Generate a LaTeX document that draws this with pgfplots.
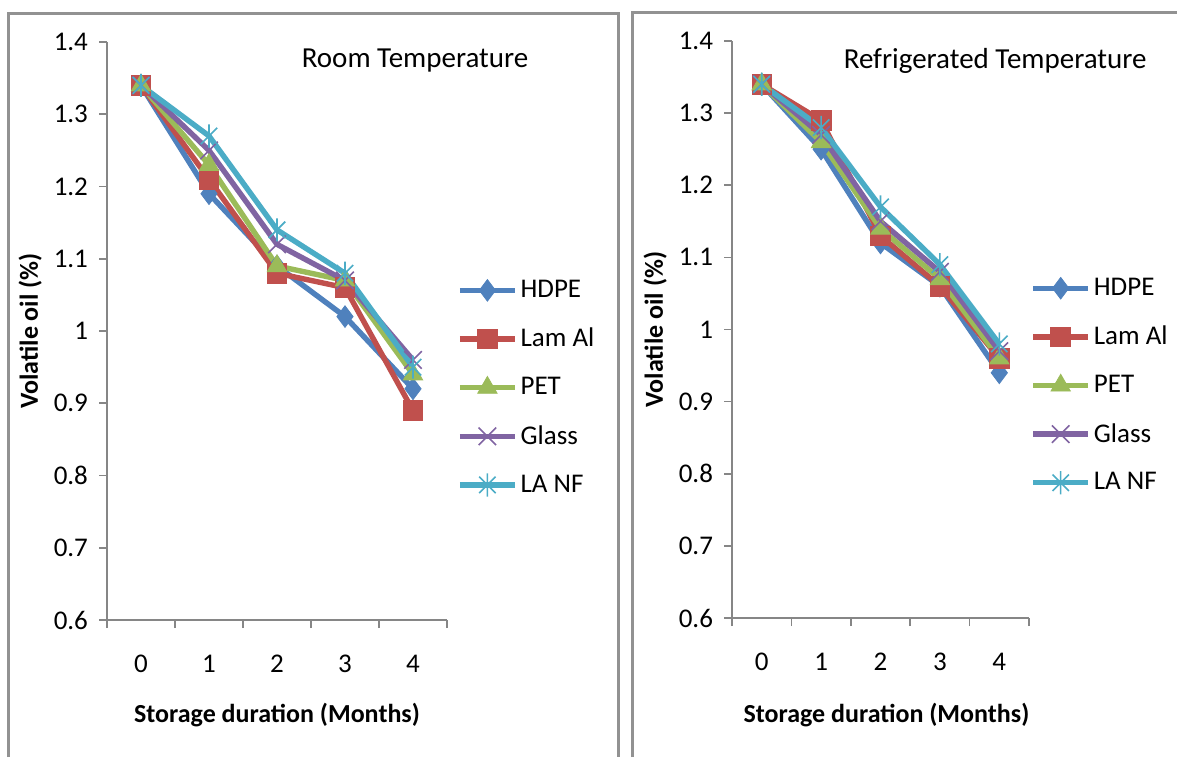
\documentclass[border=0pt]{standalone}
\usepackage{pgfplots}
\pgfplotsset{compat=1.18}
\usepackage{fontspec}
\setmainfont{Carlito}
\definecolor{cHDPE}{HTML}{4F81BD}
\definecolor{cLam}{HTML}{C0504D}
\definecolor{cPET}{HTML}{9BBB59}
\definecolor{cGlass}{HTML}{8064A2}
\definecolor{cLANF}{HTML}{4BACC6}
\definecolor{axgray}{HTML}{868686}
\pgfdeclareplotmark{xstar}{%
  \pgfpathmoveto{\pgfqpoint{-.7071\pgfplotmarksize}{-.7071\pgfplotmarksize}}%
  \pgfpathlineto{\pgfqpoint{.7071\pgfplotmarksize}{.7071\pgfplotmarksize}}%
  \pgfpathmoveto{\pgfqpoint{-.7071\pgfplotmarksize}{.7071\pgfplotmarksize}}%
  \pgfpathlineto{\pgfqpoint{.7071\pgfplotmarksize}{-.7071\pgfplotmarksize}}%
  \pgfpathmoveto{\pgfqpoint{0pt}{-\pgfplotmarksize}}%
  \pgfpathlineto{\pgfqpoint{0pt}{\pgfplotmarksize}}%
  \pgfusepathqstroke}

\pgfplotstableread{
m HDPE LamAl PET Glass LANF
0 1.34 1.34 1.34 1.34 1.34
1 1.19 1.21 1.23 1.25 1.27
2 1.09 1.08 1.09 1.12 1.14
3 1.02 1.06 1.07 1.07 1.08
4 0.92 0.89 0.94 0.96 0.95
}\roomdata
\pgfplotstableread{
m HDPE LamAl PET Glass LANF
0 1.34 1.34 1.34 1.34 1.34
1 1.25 1.29 1.26 1.27 1.28
2 1.12 1.13 1.14 1.15 1.17
3 1.06 1.06 1.07 1.08 1.09
4 0.94 0.96 0.96 0.97 0.98
}\fridgedata

\pgfplotsset{
  excel/.style={
    scale only axis,
    clip=false,
    xmin=-0.5, xmax=4.5,
    ymin=0.6, ymax=1.4,
    ytick={0.6,0.7,...,1.41},
    xtick={0,1,2,3,4},
    minor xtick={-0.5,0.5,...,4.6},
    major x tick style={draw=none},
    minor x tick style={axgray, line width=0.8pt},
    minor tick length=4pt,
    major tick length=4pt,
    y tick style={axgray, line width=0.8pt},
    tick align=outside,
    axis x line*=bottom,
    axis y line*=left,
    axis line style={axgray, line width=1.2pt, -},
    /pgf/number format/assume math mode=true,
    yticklabel={\pgfmathprintnumber[fixed,precision=1]{\tick}},
    tick label style={font=\fontsize{13.5}{15}\selectfont},
    xticklabel style={yshift=-10pt},
    yticklabel style={xshift=-2pt},
    label style={font=\fontsize{13}{15}\selectfont\bfseries},
    ylabel={Volatile oil (\%)},
    xlabel={Storage duration (Months)},
    legend style={draw=none, fill=none, inner sep=0pt, outer sep=0pt,
      font=\fontsize{13.5}{15}\selectfont, row sep=10.8pt,
      nodes={inner sep=1.5pt}},
    legend cell align=left,
    legend image code/.code={%
      \draw[mark repeat=2,mark phase=2] plot coordinates {(0pt,0pt)(13.75pt,0pt)(27.5pt,0pt)};},
    every axis plot/.append style={line width=2.7pt},
  },
  pHDPE/.style={color=cHDPE, mark=diamond*, mark size=5.4pt, mark options={solid, line width=0.4pt}},
  pLam/.style={color=cLam, mark=square*, mark size=4.9pt, mark options={solid, line width=0.4pt}},
  pPET/.style={color=cPET, mark=triangle*, mark size=5.6pt, mark options={solid, line width=0.4pt}},
  pGlass/.style={color=cGlass, mark=x, mark size=6.2pt, mark options={solid, line width=0.8pt}},
  pLANF/.style={color=cLANF, mark=xstar, mark size=5.8pt, mark options={solid, line width=0.8pt}},
}

\begin{document}
\begin{tikzpicture}
\path[use as bounding box] (0,0) rectangle (588.5pt,-378.5pt);
\draw[color=axgray!90, line width=1.5pt] (4pt,-378.5pt) -- (4pt,-6.5pt) -- (309pt,-6.5pt) -- (309pt,-378.5pt);
\draw[color=axgray!90, line width=1.5pt] (316pt,-378.5pt) -- (316pt,-6pt) -- (588.5pt,-6pt);

\begin{axis}[excel,
  at={(53.5pt,-310pt)}, anchor=south west,
  width=170pt, height=289pt,
  ylabel style={at={(axis description cs:-0.226,0.5)}, anchor=center},
  xlabel style={at={(axis description cs:0.5,-0.164)}, anchor=center},
  legend style={at={(axis description cs:1.03,0.402)}, anchor=west},
]
\addplot[pHDPE] table[x=m,y=HDPE]{\roomdata};
\addplot[pLam] table[x=m,y=LamAl]{\roomdata};
\addplot[pPET] table[x=m,y=PET]{\roomdata};
\addplot[pGlass] table[x=m,y=Glass]{\roomdata};
\addplot[pLANF] table[x=m,y=LANF]{\roomdata};
\legend{HDPE, Lam Al, PET, Glass, LA NF}
\node[font=\fontsize{14.5}{17}\selectfont] at (rel axis cs:0.906,0.968) {Room Temperature};
\end{axis}

\begin{axis}[excel,
  at={(366pt,-309pt)}, anchor=south west,
  width=148.5pt, height=288.5pt,
  ylabel style={at={(axis description cs:-0.259,0.5)}, anchor=center},
  xlabel style={at={(axis description cs:0.52,-0.168)}, anchor=center},
  legend style={at={(axis description cs:1.005,0.403)}, anchor=west},
]
\addplot[pHDPE] table[x=m,y=HDPE]{\fridgedata};
\addplot[pLam] table[x=m,y=LamAl]{\fridgedata};
\addplot[pPET] table[x=m,y=PET]{\fridgedata};
\addplot[pGlass] table[x=m,y=Glass]{\fridgedata};
\addplot[pLANF] table[x=m,y=LANF]{\fridgedata};
\legend{HDPE, Lam Al, PET, Glass, LA NF}
\node[font=\fontsize{14.5}{17}\selectfont] at (rel axis cs:0.886,0.966) {Refrigerated Temperature};
\end{axis}
\end{tikzpicture}
\end{document}
